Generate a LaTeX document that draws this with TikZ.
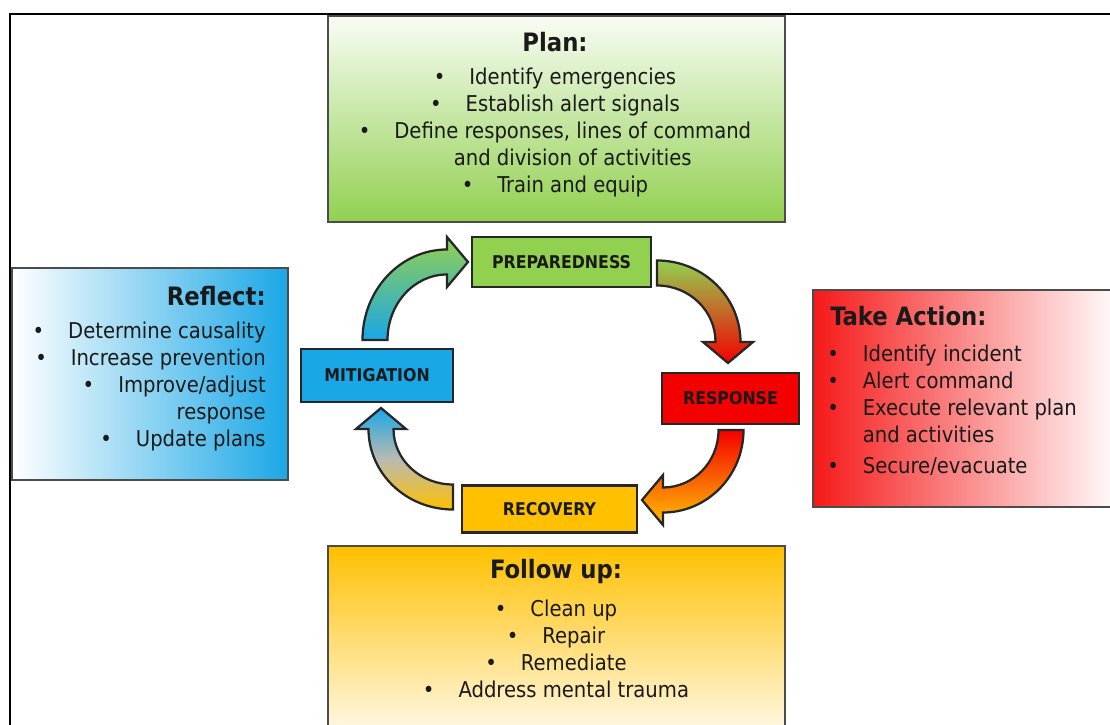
\documentclass[tikz,border=0pt]{standalone}
\usepackage{fontspec}
\setmainfont{DejaVu Sans Condensed}
\usetikzlibrary{positioning,calc}

\definecolor{prepgreen}{HTML}{92D050}
\definecolor{mitblue}{HTML}{1AA7E6}
\definecolor{respred}{HTML}{F50000}
\definecolor{recorange}{HTML}{FFC000}
\definecolor{inktext}{HTML}{1A1A1A}
\definecolor{fadegray}{HTML}{B9BAB2}

\newcommand{\bitem}{\textbullet\hspace{1.1em}}
\newcommand{\bgap}{\phantom{\textbullet\hspace{1.1em}}}

% curved block arrow: centre, x radius, y radius, start angle, end angle, shading
\newcommand{\cyclearrow}[6]{%
\path[cyclearrowline,#6] ($(#1)+(#4:#2+12.5 and #3+12.5)$)
  arc[start angle=#4, end angle=#5, x radius=#2+12.5, y radius=#3+12.5]
  -- ($(#1)+(#5:#2+25 and #3+25)$)
  -- ($(#1)+(#5:#2 and #3)+(#5-90:21)$)
  -- ($(#1)+(#5:#2-25 and #3-25)$)
  -- ($(#1)+(#5:#2-12.5 and #3-12.5)$)
  arc[start angle=#5, end angle=#4, x radius=#2-12.5, y radius=#3-12.5]
  -- cycle;}

\begin{document}
\begin{tikzpicture}[x=0.025cm, y=0.025cm,
  phase/.style={draw=black!85, line width=2pt, font=\fontsize{12.5}{15}\selectfont\bfseries, text=inktext, inner sep=0pt},
  infobox/.style={draw=black!70, line width=0.9pt, inner sep=0pt},
  infohead/.style={font=\fontsize{18}{21}\selectfont\bfseries, text=inktext, inner sep=0pt},
  infolist/.style={font=\fontsize{15.5}{19.2}\selectfont, text=inktext, inner sep=0pt},
  cyclearrowline/.style={draw=black!85, line width=1.6pt}]
%\draw[help lines] (0,0) grid[step=50] (1110,724);
\useasboundingbox (0,0) rectangle (1110,724);
\clip (0,0) rectangle (1110,724);

\draw[line width=1.4pt] (10,-20) -- (10,710) -- (1130,710);

\node[infobox, minimum width=11.425cm, minimum height=5.15cm,
  top color=prepgreen!6, bottom color=prepgreen] (planbox) at (556.5,605) {};
\node[infobox, minimum width=6.9cm, minimum height=5.3cm,
  left color=white, right color=mitblue] (reflbox) at (150,350) {};
\node[infobox, minimum width=7.675cm, minimum height=5.425cm,
  left color=respred!90, right color=white] (actbox) at (966.5,325.5) {};
\node[infobox, minimum width=11.425cm, minimum height=4.85cm,
  top color=recorange, bottom color=recorange!6] (followbox) at (556.5,81) {};

\node[infohead] (plantitle) at (555,682) {Plan:};
\node[infolist, align=center, below=0.38cm of plantitle] (planlist)
  {\bitem Identify emergencies\\ \bitem Establish alert signals\\
   \bitem Define responses, lines of command\\ \bgap and division of activities\\
   \bitem Train and equip};

\node[infohead, anchor=east] (refltitle) at (266,428) {Reflect:};
\node[infolist, align=right, below left=0.39cm and 0cm of refltitle.south east] (refllist)
  {\bitem Determine causality\\ \bitem Increase prevention\\ \bitem Improve/adjust\\
   response\\ \bitem Update plans};

\node[infohead, anchor=west] (acttitle) at (830,408) {Take Action:};
\node[infolist, align=left, below right=0.46cm and -0.075cm of acttitle.south west] (actlist)
  {\bitem Identify incident\\ \bitem Alert command\\ \bitem Execute relevant plan\\
   \bgap and activities\\[3pt] \bitem Secure/evacuate};

\node[infohead] (followtitle) at (556,152) {Follow up:};
\node[infolist, align=center, below=0.37cm of followtitle] (followlist)
  {\bitem Clean up\\ \bitem Repair\\ \bitem Remediate\\ \bitem Address mental trauma};

\node[phase, fill=prepgreen, minimum width=4.475cm, minimum height=1.25cm] (prep) at (561.5,462) {PREPAREDNESS};
\node[phase, fill=respred, minimum width=3.425cm, minimum height=1.275cm] (resp) at (730.5,325.5) {RESPONSE};
\node[phase, fill=recorange, minimum width=4.375cm, minimum height=1.175cm] (recov) at (549.5,215) {RECOVERY};
\node[phase, fill=mitblue, minimum width=3.8cm, minimum height=1.325cm] (mitig) at (377,348.5) {MITIGATION};

\coordinate (mp) at (447,384);
\coordinate (pr) at (657,382);
\coordinate (rr) at (663,294);
\coordinate (rm) at (453,295);

\cyclearrow{mp}{72}{78}{180}{90}{bottom color=mitblue, top color=prepgreen}
\cyclearrow{pr}{71}{69}{90}{0}{top color=prepgreen, bottom color=respred}
\cyclearrow{rr}{68}{70}{0}{-90}{top color=respred, bottom color=recorange}
\cyclearrow{rm}{72}{68}{-90}{-180}{bottom color=recorange, top color=mitblue, middle color=fadegray}
\end{tikzpicture}
\end{document}
